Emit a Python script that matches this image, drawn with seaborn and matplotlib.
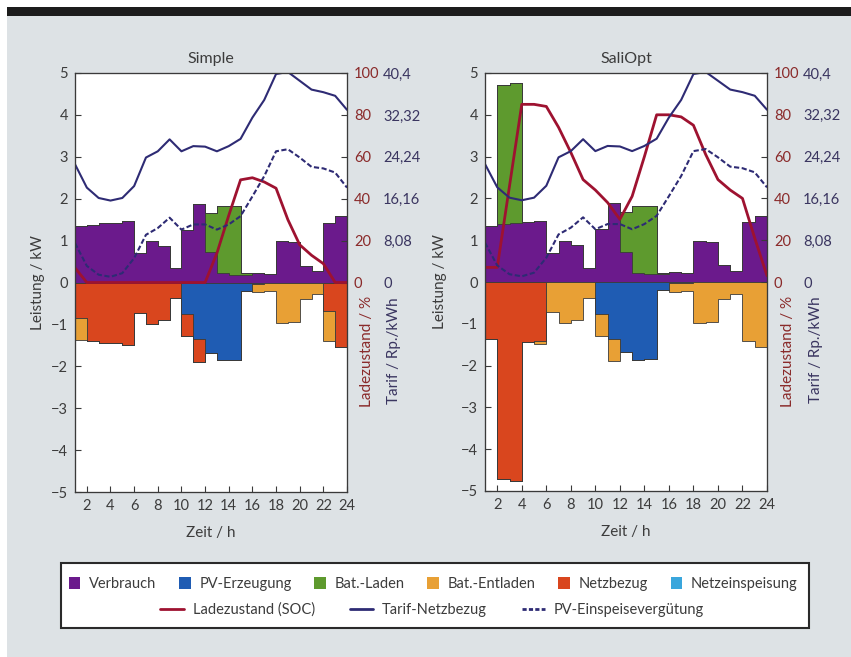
import numpy as np
import matplotlib.pyplot as plt
import seaborn as sns
from matplotlib.patches import Patch, Rectangle
from matplotlib.lines import Line2D

sns.set_style("ticks")
plt.rcParams['font.family'] = ['Lato', 'DejaVu Sans']

# Stunden: Linienpunkte 1..24, Balken von h bis h+1 (h = 1..23)
hours = np.arange(1, 25)
edges = np.arange(1, 25)

# Leistungen in kW (gleich in beiden Varianten)
verbrauch = [1.35, 1.38, 1.42, 1.43, 1.47, 0.70, 0.98, 0.88, 0.34, 1.26, 1.88, 0.72,
             0.22, 0.19, 0.18, 0.23, 0.21, 0.99, 0.96, 0.40, 0.27, 1.43, 1.58]
pv_erzeugung = [0, 0, 0, 0, 0, 0, 0, 0, 0, 0.76, 1.36, 1.68,
                1.86, 1.84, 0.20, 0.03, 0.02, 0, 0, 0, 0, 0, 0]
netzeinspeisung = [0] * 23

# Variante "Simple"
laden_simple = [0, 0, 0, 0, 0, 0, 0, 0, 0, 0, 0, 0.95,
                1.61, 1.63, 0.04, 0, 0, 0, 0, 0, 0, 0, 0]
entladen_simple = [0.54, 0, 0, 0, 0, 0, 0, 0, 0, 0, 0, 0,
                   0, 0, 0, 0.20, 0.19, 0.96, 0.94, 0.40, 0.28, 0.72, 0]
netzbezug_simple = [0.84, 1.40, 1.44, 1.44, 1.50, 0.72, 0.98, 0.90, 0.38, 0.52, 0.54, 0,
                    0, 0, 0, 0, 0, 0, 0, 0, 0, 0.68, 1.55]
soc_simple = [7, 0, 0, 0, 0, 0, 0, 0, 0, 0, 0, 0,
              14, 32, 49, 50, 48, 45, 30, 18, 13, 9, 0, 0]

# Variante "SaliOpt"
laden_opt = [0, 3.34, 3.34, 0, 0, 0, 0, 0, 0, 0, 0, 0.95,
             1.61, 1.63, 0.04, 0, 0, 0, 0, 0, 0, 0, 0]
entladen_opt = [0, 0, 0, 0, 0.08, 0.72, 0.98, 0.90, 0.38, 0.52, 0.54, 0,
                0, 0, 0, 0.20, 0.19, 0.97, 0.95, 0.40, 0.28, 1.42, 1.56]
netzbezug_opt = [1.36, 4.72, 4.76, 1.44, 1.40, 0, 0, 0, 0, 0, 0, 0,
                 0, 0, 0, 0, 0, 0, 0, 0, 0, 0, 0]
soc_opt = [7, 7, 46, 85, 85, 84, 74, 62, 49, 44, 38, 30,
           41, 60, 80, 80, 79, 75, 61, 49, 44, 40, 21, 3]

# Tarife in Rp./kWh
tarif_netz = [22.8, 18.3, 16.3, 15.8, 16.3, 18.6, 24.1, 25.3, 27.6, 25.3, 26.3, 26.2,
              25.3, 26.3, 27.7, 31.8, 35.2, 40.2, 40.6, 38.9, 37.2, 36.7, 36.0, 33.3]
pv_verguetung = [7.6, 3.2, 1.5, 1.1, 1.8, 4.7, 9.2, 10.5, 12.5, 10.2, 11.2, 11.2,
                 10.2, 11.2, 12.8, 16.6, 20.5, 25.3, 25.7, 24.1, 22.3, 22.0, 21.2, 18.3]

kw_ticks = list(range(-5, 6))
x_ticks = list(range(2, 25, 2))
soc_ticks = [0, 20, 40, 60, 80, 100]
tarif_ticks = [0, 8.08, 16.16, 24.24, 32.32, 40.4]
tarif_ticklabels = ['0', '8,08', '16,16', '24,24', '32,32', '40,4']

c_verbrauch = '#6b1a8c'
c_pv = '#1f5cb3'
c_laden = '#5e9a2e'
c_entladen = '#e8a035'
c_netz = '#d9461e'
c_einsp = '#3aa6dc'
c_soc = '#9e1230'
c_tarif = '#2e2b74'
c_edge = '#3a3a3a'
c_text = '#3c3c3c'


def step_fill(ax, values, bottom, color, sign=1):
    vals = np.asarray(values) * sign
    base = np.asarray(bottom)
    ax.stairs(base + vals, edges, baseline=base, fill=True,
              facecolor=color, edgecolor=c_edge, linewidth=0.6)
    return base + vals


def draw_panel(ax, title, laden, entladen, netzbezug, soc, lab_x):
    # positive Seite: Verbrauch + Laden (+ Einspeisung)
    top = step_fill(ax, verbrauch, np.zeros(23), c_verbrauch)
    top = step_fill(ax, laden, top, c_laden)
    step_fill(ax, netzeinspeisung, top, c_einsp)
    # negative Seite: PV, Netzbezug, Entladen
    low = step_fill(ax, pv_erzeugung, np.zeros(23), c_pv, -1)
    low = step_fill(ax, netzbezug, low, c_netz, -1)
    step_fill(ax, entladen, low, c_entladen, -1)

    ax.set_xlim(1, 24)
    ax.set_ylim(-5, 5)
    ax.set_xticks(x_ticks)
    ax.set_yticks(kw_ticks)
    ax.tick_params(direction='in', length=4, right=True, labelsize=10.5,
                   labelcolor=c_text, color=c_edge, pad=5)
    ax.set_title(title, fontsize=11.5, color=c_text, pad=7)
    ax.set_xlabel('Zeit / h', fontsize=11, color=c_text)
    ax.xaxis.label.set_verticalalignment('center')
    ax.xaxis.set_label_coords(0.5, -0.098)
    ax.set_ylabel('Leistung / kW', fontsize=11, color=c_text)
    ax.yaxis.label.set_verticalalignment('center')
    ax.yaxis.set_label_coords(lab_x, 0.5)

    ax_soc = ax.twinx()
    sns.lineplot(x=hours, y=soc, ax=ax_soc, color=c_soc, linewidth=2)
    ax_soc.set_ylim(-100, 100)
    ax_soc.set_yticks(soc_ticks)
    ax_soc.tick_params(axis='y', direction='in', length=4, labelsize=10.5,
                       labelcolor='#8a2a2a', color=c_edge, pad=5)
    ax_soc.set_ylabel('Ladezustand / %', fontsize=11, color='#8a2a2a')
    ax_soc.yaxis.label.set_verticalalignment('center')
    ax_soc.yaxis.set_label_coords(1.073, 0.335)

    ax_tar = ax.twinx()
    sns.lineplot(x=hours, y=tarif_netz, ax=ax_tar, color=c_tarif, linewidth=1.5)
    sns.lineplot(x=hours, y=pv_verguetung, ax=ax_tar, color=c_tarif,
                 linewidth=1.5, linestyle=(0, (2.5, 1.2)))
    ax_tar.set_ylim(-40.4, 40.4)
    ax_tar.set_yticks(tarif_ticks)
    ax_tar.set_yticklabels(tarif_ticklabels)
    ax_tar.tick_params(axis='y', length=0, labelsize=10.5,
                       labelcolor='#3a3560', pad=26)
    ax_tar.set_ylabel('Tarif / Rp./kWh', fontsize=11, color='#3a3560')
    ax_tar.yaxis.label.set_verticalalignment('center')
    ax_tar.yaxis.set_label_coords(1.172, 0.338)

    for a in (ax, ax_soc, ax_tar):
        for s in a.spines.values():
            s.set_color(c_edge)
            s.set_linewidth(0.8)


fig = plt.figure(figsize=(8.51, 6.57), dpi=100, facecolor='white')
# grauer Hintergrund und schwarzer Balken oben
fig.patches.append(Rectangle((7 / 851, 0), 1, 641 / 657, transform=fig.transFigure,
                             facecolor='#dde2e5', edgecolor='none', zorder=-2))
fig.patches.append(Rectangle((7 / 851, 641 / 657), 1, 9 / 657, transform=fig.transFigure,
                             facecolor='#1c1c1c', edgecolor='none', zorder=-1))

ax1 = fig.add_axes([75 / 851, 165 / 657, 272 / 851, 419 / 657])
ax2 = fig.add_axes([485 / 851, 166 / 657, 282 / 851, 418 / 657])
ax1.set_facecolor('white')
ax2.set_facecolor('white')

draw_panel(ax1, 'Simple', laden_simple, entladen_simple, netzbezug_simple, soc_simple, -0.136)
draw_panel(ax2, 'SaliOpt', laden_opt, entladen_opt, netzbezug_opt, soc_opt, -0.16)

# Legende
fig.patches.append(Rectangle((61 / 851, 29 / 657), 748 / 851, 65 / 657,
                             transform=fig.transFigure, facecolor='white',
                             edgecolor='#2a2a2a', linewidth=1.5, zorder=0))
patch_labels = ['Verbrauch', 'PV-Erzeugung', 'Bat.-Laden', 'Bat.-Entladen',
                'Netzbezug', 'Netzeinspeisung']
patch_colors = [c_verbrauch, c_pv, c_laden, c_entladen, c_netz, c_einsp]
patch_handles = [Patch(facecolor=c, edgecolor='none') for c in patch_colors]
leg1 = fig.legend(patch_handles, patch_labels, loc='center', bbox_to_anchor=(0.509, 0.111),
                  ncol=6, frameon=False, fontsize=10.5, handlelength=0.8, handleheight=0.8,
                  handletextpad=0.6, columnspacing=1.55, labelcolor=c_text)
line_labels = ['Ladezustand (SOC)', 'Tarif-Netzbezug', 'PV-Einspeisevergütung']
line_handles = [Line2D([0], [0], color=c_soc, linewidth=2),
                Line2D([0], [0], color=c_tarif, linewidth=2),
                Line2D([0], [0], color=c_tarif, linewidth=2, linestyle=(0, (1.5, 0.8)))]
leg2 = fig.legend(line_handles, line_labels, loc='center', bbox_to_anchor=(0.508, 0.0715),
                  ncol=3, frameon=False, fontsize=10.5, handlelength=1.6,
                  handletextpad=0.6, columnspacing=2.4, labelcolor=c_text)

fig.savefig('out.png', dpi=100, facecolor=fig.get_facecolor())
